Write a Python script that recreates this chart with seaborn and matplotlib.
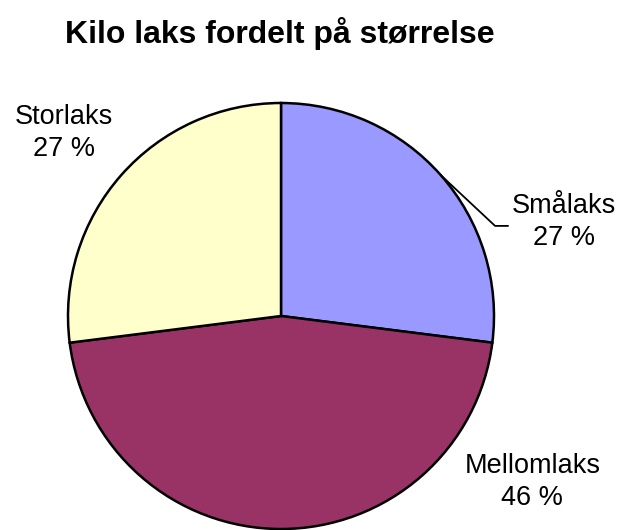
import matplotlib
matplotlib.use("Agg")
import numpy as np
import seaborn as sns
import matplotlib.pyplot as plt

sns.set_theme(style="white")
plt.rcParams["font.family"] = ["Liberation Sans", "DejaVu Sans"]
plt.rcParams["text.color"] = "black"

# --- Data ---
title = "Kilo laks fordelt på størrelse"
sizes = ["Smålaks", "Mellomlaks", "Storlaks"]
kilo_pct = [27, 46, 27]
colors = ["#9999FF", "#993366", "#FFFFCC"]

fig = plt.figure(figsize=(6.33, 5.30), dpi=100)
# pie centre at ~(281, 316) px, radius ~213 px
ax = fig.add_axes([68 / 633, 1 / 530, 426 / 633, 426 / 530])

wedges, _ = ax.pie(
    kilo_pct,
    colors=colors,
    startangle=90,
    counterclock=False,
    radius=1.0,
    wedgeprops=dict(edgecolor="black", linewidth=1.8),
)
ax.set_xlim(-1, 1)
ax.set_ylim(-1, 1)
ax.set_aspect("equal")
ax.axis("off")

labels = [f"{n}\n{v} %" for n, v in zip(sizes, kilo_pct)]
label_pos = [(1.33, 0.44), (1.18, -0.78), (-1.02, 0.86)]
for lab, (x, y) in zip(labels, label_pos):
    ax.text(x, y, lab, ha="center", va="center", fontsize=19.5,
            linespacing=1.3, color="black", clip_on=False)

# leader line for Smålaks
w = wedges[0]
mid = np.deg2rad((w.theta1 + w.theta2) / 2)
ax.plot([np.cos(mid), 1.005, 1.066], [np.sin(mid), 0.423, 0.423],
        color="black", lw=1.3, clip_on=False)

fig.text(280 / 633, 1 - 33 / 530, title, ha="center", va="center",
         fontsize=23, fontweight="bold", color="black")

fig.savefig("out.png", dpi=100)
plt.close(fig)
